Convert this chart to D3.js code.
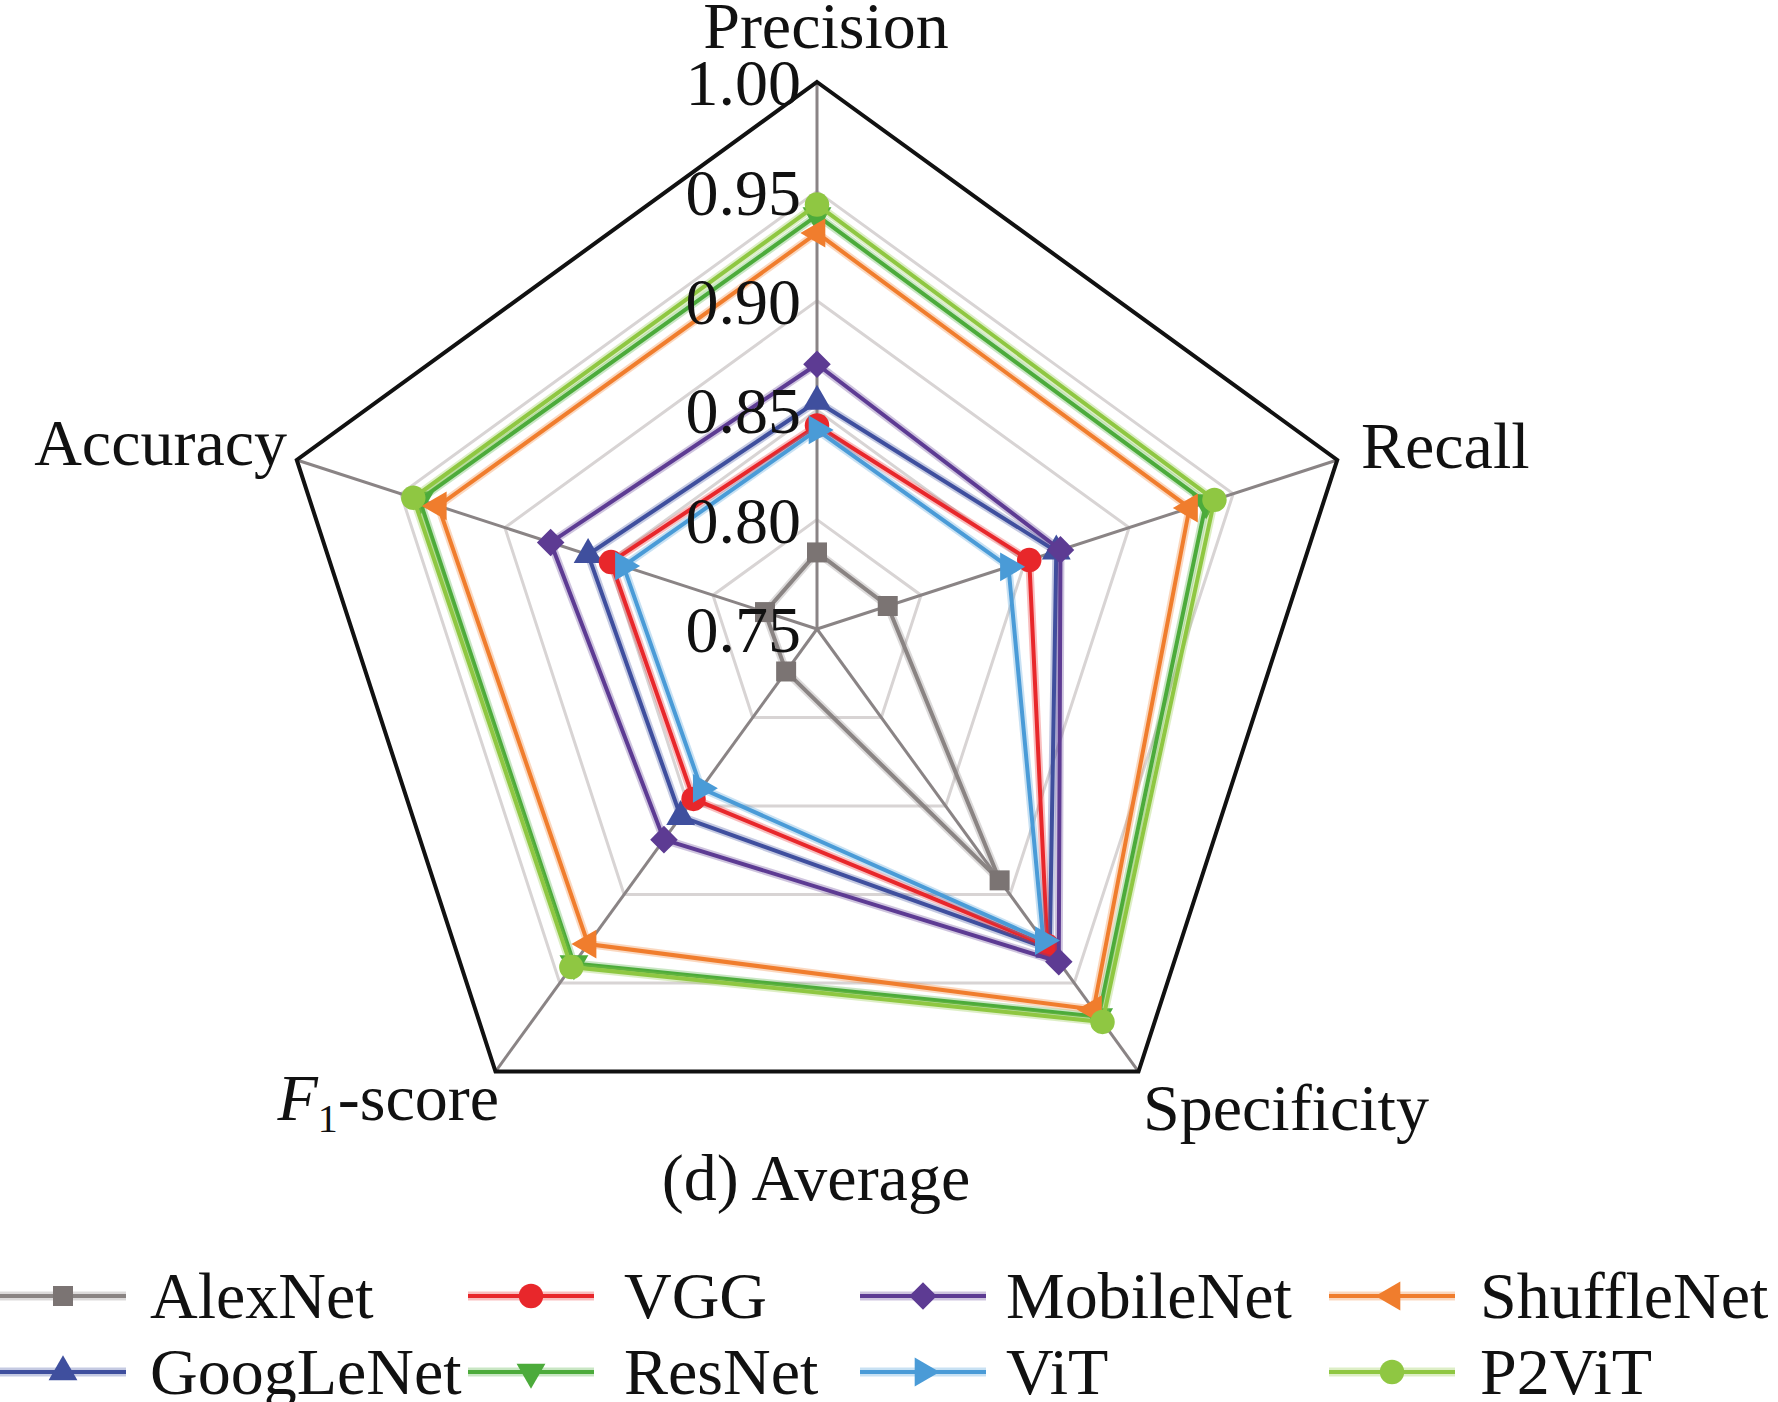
<!DOCTYPE html>
<html>
<head>
<meta charset="utf-8">
<script src="https://cdn.jsdelivr.net/npm/d3@7"></script>
<style>
  html, body { margin: 0; padding: 0; background: #fff; }
  svg text { font-family: "Liberation Serif", "Times New Roman", serif; fill: #111; }
</style>
</head>
<body>
<div id="chart"></div>
<script>
// axes, clockwise from the top
const axes = ["Precision", "Recall", "Specificity", "F1-score", "Accuracy"];
const ticks = [0.75, 0.80, 0.85, 0.90, 0.95, 1.00];

// models in drawing order (legend is filled column by column)
const models = ["AlexNet", "GoogLeNet", "VGG", "ResNet", "MobileNet", "ViT", "ShuffleNet", "P2ViT"];

const alexnet    = [0.785, 0.784, 0.892, 0.774, 0.775];
const googlenet  = [0.854, 0.865, 0.931, 0.856, 0.860];
const vgg        = [0.843, 0.852, 0.929, 0.846, 0.849];
const resnet     = [0.939, 0.937, 0.969, 0.939, 0.941];
const mobilenet  = [0.871, 0.867, 0.938, 0.869, 0.878];
const vit        = [0.841, 0.842, 0.926, 0.840, 0.843];
const shufflenet = [0.931, 0.929, 0.965, 0.928, 0.932];
const p2vit      = [0.944, 0.941, 0.972, 0.941, 0.944];

const values = [alexnet, googlenet, vgg, resnet, mobilenet, vit, shufflenet, p2vit];

// legend layout: row-major
const legendRows = [
  ["AlexNet", "VGG", "MobileNet", "ShuffleNet"],
  ["GoogLeNet", "ResNet", "ViT", "P2ViT"]
];

const style = {
  AlexNet:    { color: "#8a8483", marker: "#7b7473", shape: "square" },
  GoogLeNet:  { color: "#3f4f9e", marker: "#3f4f9e", shape: "up" },
  VGG:        { color: "#e8272b", marker: "#e8272b", shape: "circle" },
  ResNet:     { color: "#4cab3b", marker: "#4cab3b", shape: "down" },
  MobileNet:  { color: "#5d3b93", marker: "#5d3b93", shape: "diamond" },
  ViT:        { color: "#4a9bd7", marker: "#4a9bd7", shape: "right" },
  ShuffleNet: { color: "#f07d2d", marker: "#f07d2d", shape: "left" },
  P2ViT:      { color: "#8fc742", marker: "#8fc742", shape: "circle" }
};

const W = 1778, H = 1402;
const cx = 817, cy = 629, R = 547;

const svg = d3.select("#chart").append("svg")
  .attr("width", W).attr("height", H)
  .attr("viewBox", `0 0 ${W} ${H}`);

const r = d3.scaleLinear().domain([0.75, 1.0]).range([0, R]);
const angle = i => i * 2 * Math.PI / axes.length;
const pt = (v, i) => [cx + r(v) * Math.sin(angle(i)), cy - r(v) * Math.cos(angle(i))];

// grid rings
const ring = d3.line().curve(d3.curveLinearClosed);
svg.append("g").selectAll("path")
  .data(ticks.slice(1, -1))
  .join("path")
    .attr("d", t => ring(axes.map((a, i) => pt(t, i))))
    .attr("fill", "none")
    .attr("stroke", "#d8d4d4")
    .attr("stroke-width", 3);

// spokes
svg.append("g").selectAll("line")
  .data(axes)
  .join("line")
    .attr("x1", cx).attr("y1", cy)
    .attr("x2", (a, i) => pt(1, i)[0])
    .attr("y2", (a, i) => pt(1, i)[1])
    .attr("stroke", "#8a8485")
    .attr("stroke-width", 3);

// outer frame
svg.append("path")
  .attr("d", ring(axes.map((a, i) => pt(1, i))))
  .attr("fill", "none")
  .attr("stroke", "#111")
  .attr("stroke-width", 4)
  .attr("stroke-linejoin", "miter");

// markers
function symbolPath(shape, big) {
  const k = big ? 1 : 1;
  if (shape === "square")  return d3.symbol(d3.symbolSquare, 400 * k)();
  if (shape === "circle")  return d3.symbol(d3.symbolCircle, 470 * k)();
  if (shape === "diamond") return d3.symbol(d3.symbolSquare, 380 * k)();
  return d3.symbol(d3.symbolTriangle, 360 * k)();
}
const rot = { up: 0, down: 180, left: -90, right: 90, diamond: 45, square: 0, circle: 0 };

// series
const seriesG = svg.append("g");
models.forEach((m, j) => {
  const s = style[m];
  const pts = values[j].map((v, i) => pt(v, i));
  const g = seriesG.append("g");
  g.append("path")
    .attr("d", ring(pts))
    .attr("fill", "none")
    .attr("stroke", s.color)
    .attr("stroke-opacity", 0.3)
    .attr("stroke-width", 8)
    .attr("stroke-linejoin", "miter");
  g.append("path")
    .attr("d", ring(pts))
    .attr("fill", "none")
    .attr("stroke", s.color)
    .attr("stroke-width", 4)
    .attr("stroke-linejoin", "miter");
  g.selectAll("path.mk")
    .data(pts)
    .join("path")
      .attr("class", "mk")
      .attr("d", symbolPath(s.shape))
      .attr("transform", d => `translate(${d[0]},${d[1]}) rotate(${rot[s.shape]})`)
      .attr("fill", s.marker);
});

// tick labels
svg.append("g").selectAll("text")
  .data(ticks)
  .join("text")
    .attr("x", cx - 16)
    .attr("y", t => cy - r(t))
    .attr("dy", "0.35em")
    .attr("text-anchor", "end")
    .attr("font-size", 66)
    .text(t => t.toFixed(2));

// axis labels
const fs = 66;
svg.append("text").attr("x", 826).attr("y", 48).attr("text-anchor", "middle")
  .attr("font-size", fs).text(axes[0]);
svg.append("text").attr("x", 1361).attr("y", 468).attr("text-anchor", "start")
  .attr("font-size", fs).text(axes[1]);
svg.append("text").attr("x", 1143).attr("y", 1130).attr("text-anchor", "start")
  .attr("font-size", fs).text(axes[2]);
const f1 = svg.append("text").attr("x", 499).attr("y", 1120).attr("text-anchor", "end")
  .attr("font-size", fs);
f1.append("tspan").attr("font-style", "italic").text("F");
f1.append("tspan").attr("font-size", 40).attr("dy", 12).text("1");
f1.append("tspan").attr("dy", -12).text("-score");
svg.append("text").attr("x", 287).attr("y", 465).attr("text-anchor", "end")
  .attr("font-size", fs).text(axes[4]);

// caption
svg.append("text").attr("x", 816).attr("y", 1200).attr("text-anchor", "middle")
  .attr("font-size", fs).text("(d) Average");

// legend
const colX = [0, 468, 860, 1329];
const textX = [150, 624, 1006, 1480];
const rowY = [1296, 1372];
const lineLen = 126;
legendRows.forEach((row, ri) => {
  row.forEach((m, ci) => {
    const s = style[m];
    const g = svg.append("g").attr("transform", `translate(${colX[ci]},${rowY[ri]})`);
    g.append("line").attr("x1", 0).attr("x2", lineLen)
      .attr("stroke", s.color).attr("stroke-opacity", 0.3).attr("stroke-width", 9);
    g.append("line").attr("x1", 0).attr("x2", lineLen)
      .attr("stroke", s.color).attr("stroke-width", 4);
    g.append("path")
      .attr("d", symbolPath(s.shape))
      .attr("transform", `translate(${lineLen / 2},0) rotate(${rot[s.shape]})`)
      .attr("fill", s.marker);
    svg.append("text")
      .attr("x", textX[ci]).attr("y", rowY[ri] + 22)
      .attr("font-size", fs)
      .text(m);
  });
});
</script>
</body>
</html>
